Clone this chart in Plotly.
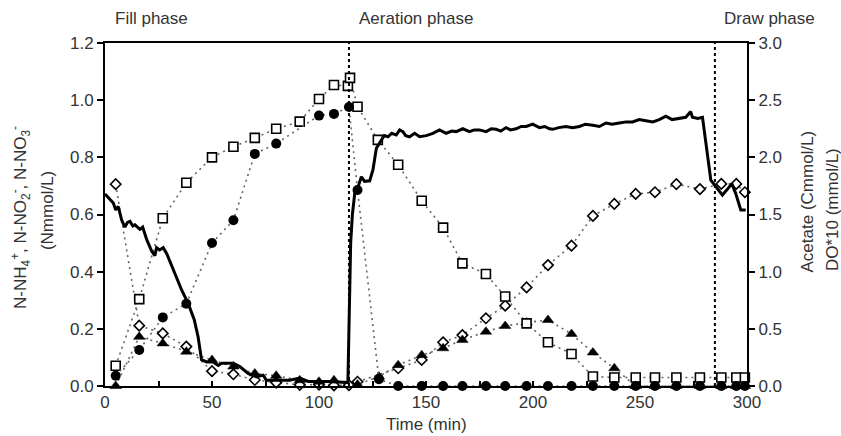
import plotly.graph_objects as go

# ---------------- data ----------------
# N-NH4+ (open squares), left axis, Nmmol/L
nh4_t = [5, 16, 27, 38, 50, 60, 70, 80, 91, 100, 107, 113.5, 114.5, 118, 127.5, 137, 148, 158, 167, 178,
         187, 197, 207, 218, 228, 238, 248, 257, 267, 278, 288, 295, 299]
nh4_v = [0.071, 0.304, 0.587, 0.711, 0.800, 0.837, 0.868, 0.900, 0.925, 1.004, 1.053, 1.050, 1.078, 0.977,
         0.861, 0.774, 0.648, 0.554, 0.429, 0.392, 0.313, 0.219, 0.153, 0.112, 0.033, 0.030, 0.030, 0.030,
         0.030, 0.030, 0.030, 0.030, 0.030]

# N-NO2- (filled triangles), left axis
no2_t = [5, 16, 27, 38, 50, 60, 70, 80, 91, 100, 107, 118, 128, 137, 148, 158, 167, 178, 187, 197, 207,
         218, 228, 238, 248, 257, 267, 278, 288, 295, 299]
no2_v = [0.000, 0.172, 0.149, 0.120, 0.091, 0.068, 0.044, 0.036, 0.020, 0.015, 0.020, 0.005, 0.033, 0.073,
         0.108, 0.132, 0.161, 0.190, 0.210, 0.222, 0.231, 0.182, 0.117, 0.062, 0.000, 0.000, 0.000, 0.000,
         0.000, 0.000, 0.000]

# N-NO3- (open diamonds), left axis
no3_t = [5, 16, 27, 38, 50, 60, 70, 80, 91, 100, 107, 114, 118, 137, 148, 158, 167, 178, 187, 197, 207,
         218, 228, 238, 248, 257, 267, 278, 288, 295, 299]
no3_v = [0.706, 0.211, 0.184, 0.138, 0.052, 0.041, 0.021, 0.012, 0.004, 0.005, 0.002, 0.003, 0.015, 0.062,
         0.091, 0.153, 0.178, 0.237, 0.281, 0.345, 0.423, 0.491, 0.595, 0.637, 0.672, 0.678, 0.706, 0.689,
         0.707, 0.707, 0.678]

# Acetate (filled circles), right axis, Cmmol/L
ac_t = [5, 16, 27, 38, 50, 60, 70, 80, 100, 107, 114, 118, 128, 137, 148, 158, 167, 178, 187, 197, 207,
        218, 228, 238, 248, 257, 267, 278, 288, 295, 299]
ac_v = [0.09, 0.315, 0.60, 0.72, 1.25, 1.45, 2.03, 2.12, 2.365, 2.38, 2.44, 1.715, 0.06, 0.0, 0.0, 0.0,
        0.0, 0.0, 0.0, 0.0, 0.0, 0.0, 0.0, 0.0, 0.0, 0.0, 0.0, 0.0, 0.0, 0.0, 0.0]

# DO*10 (solid line), right axis, mmol/L
do_t = [0, 2, 3.9, 5, 6.2, 7.8, 9.3, 10.5, 11.7, 13, 14, 16.3, 17.6, 19.5, 21.8, 23.3, 24.1, 25.5, 27.2,
        28.8, 31.9, 35.8, 38.9, 41.7, 43.5, 45.1, 47.5, 50.5, 52.9, 54.5, 59.9, 63, 66.9, 70.8, 73.9, 75.4,
        81.7, 86.3, 91, 95, 105, 113.5, 114.0, 114.8, 115.6, 116.8, 117.8, 119.8, 121.3, 123.7, 125.2,
        126.8, 129.1, 130.5, 132.2, 134, 136.1, 137.7, 139.2, 140.5, 142.3, 144.7, 147, 150.1, 153.2,
        156.3, 159.4, 162, 164.1, 167.2, 170.3, 172.5, 175, 178.1, 180.5, 182.8, 185, 187.4, 189.5, 192.1,
        194.5, 196.8, 199.9, 203, 205.5, 207.7, 209.2, 212, 215.4, 218.5, 221.7, 224.5, 227.9, 231, 234.1,
        237, 240.3, 243.5, 246.5, 249.6, 252.8, 256, 259, 262.1, 265, 268.3, 271.4, 273.7, 274.5, 277,
        279.2, 283.1, 285.4, 288.5, 290.8, 292.9, 294.7, 297.1, 299.4]
do_v = [1.68, 1.64, 1.60, 1.54, 1.57, 1.45, 1.39, 1.43, 1.44, 1.40, 1.41, 1.37, 1.39, 1.28, 1.18, 1.14,
        1.21, 1.19, 1.21, 1.16, 1.02, 0.84, 0.72, 0.58, 0.43, 0.23, 0.21, 0.21, 0.18, 0.20, 0.20, 0.17,
        0.11, 0.08, 0.095, 0.05, 0.05, 0.05, 0.07, 0.04, 0.04, 0.03, 0.50, 1.25, 1.50, 1.70, 1.715, 1.83,
        1.79, 1.795, 1.89, 2.08, 2.15, 2.19, 2.18, 2.21, 2.195, 2.24, 2.225, 2.19, 2.18, 2.21, 2.18, 2.19,
        2.21, 2.24, 2.21, 2.23, 2.225, 2.25, 2.225, 2.24, 2.24, 2.225, 2.25, 2.245, 2.23, 2.26, 2.24, 2.25,
        2.27, 2.27, 2.29, 2.26, 2.27, 2.25, 2.245, 2.26, 2.27, 2.26, 2.27, 2.29, 2.28, 2.27, 2.30, 2.29,
        2.30, 2.31, 2.31, 2.33, 2.32, 2.31, 2.33, 2.36, 2.33, 2.34, 2.35, 2.40, 2.35, 2.34, 2.35, 1.80,
        1.74, 1.67, 1.72, 1.77, 1.685, 1.54, 1.54]

phase_bounds = [114, 285]
phase_labels = ["Fill phase", "Aeration phase", "Draw phase"]

x_ticks = [0, 50, 100, 150, 200, 250, 300]
y_ticks = [0.0, 0.2, 0.4, 0.6, 0.8, 1.0, 1.2]
y2_ticks = [0.0, 0.5, 1.0, 1.5, 2.0, 2.5, 3.0]

# ---------------- figure ----------------
FONT = "Liberation Sans, Arial, sans-serif"
dotted = dict(color="#666666", width=1.6, dash="2px,4px")

fig = go.Figure()

fig.add_trace(go.Scatter(x=do_t, y=do_v, yaxis="y2", mode="lines",
                         line=dict(color="black", width=3), name="DO*10", cliponaxis=False))

fig.add_trace(go.Scatter(x=no3_t, y=no3_v, mode="lines+markers", line=dotted, name="N-NO3",
                         marker=dict(symbol="diamond", size=8, color="white",
                                     line=dict(color="black", width=1.6)), cliponaxis=False))
fig.add_trace(go.Scatter(x=no2_t, y=no2_v, mode="lines+markers", line=dotted, name="N-NO2",
                         marker=dict(symbol="triangle-up", size=10, color="black",
                                     line=dict(color="black", width=0.5)), cliponaxis=False))
fig.add_trace(go.Scatter(x=ac_t, y=ac_v, yaxis="y2", mode="lines+markers", line=dotted, name="Acetate",
                         marker=dict(symbol="circle", size=10, color="black"), cliponaxis=False))
fig.add_trace(go.Scatter(x=nh4_t, y=nh4_v, mode="lines+markers", line=dotted, name="N-NH4",
                         marker=dict(symbol="square", size=9, color="white",
                                     line=dict(color="black", width=1.6)), cliponaxis=False))

for xb in phase_bounds:
    fig.add_shape(type="line", xref="x", yref="paper", x0=xb, x1=xb, y0=0, y1=1,
                  line=dict(color="black", width=2, dash="3px,3px"))

tickfont = dict(family=FONT, size=17, color="#333333")

fig.update_layout(
    width=841, height=436,
    margin=dict(l=105, r=94, t=43, b=50),
    paper_bgcolor="white", plot_bgcolor="white",
    showlegend=False,
    font=dict(family=FONT, size=17, color="#333333"),
    xaxis=dict(range=[0, 300], tickvals=x_ticks, ticks="inside", ticklen=5, tickwidth=1.5,
               tickcolor="black", showline=True, linecolor="black", linewidth=2, mirror=True,
               showgrid=False, zeroline=False, tickfont=tickfont,
               minor=dict(dtick=25, ticks="inside", ticklen=5, tickwidth=1.5, tickcolor="black",
                          showgrid=False)),
    yaxis=dict(range=[0, 1.2], tickvals=y_ticks, tickformat=".1f", ticks="outside", ticklen=6,
               tickwidth=1.5, tickcolor="black", showline=True, linecolor="black", linewidth=2,
               showgrid=False, zeroline=False, tickfont=tickfont),
    yaxis2=dict(range=[0, 3.0], tickvals=y2_ticks, tickformat=".1f", ticks="outside", ticklen=6,
                tickwidth=1.5, tickcolor="black", showline=True, linecolor="black", linewidth=2,
                showgrid=False, zeroline=False, tickfont=tickfont, overlaying="y", side="right"),
)

ann_font = dict(family=FONT, size=17, color="#333333")
phase_x = [0.0717, 0.485, 1.0343]
for lbl, px in zip(phase_labels, phase_x):
    fig.add_annotation(text=lbl, xref="paper", yref="paper", x=px, y=1.070, showarrow=False,
                       xanchor="center", yanchor="middle", font=ann_font)

fig.add_annotation(text="N-NH<sub>4</sub><sup>+</sup>, N-NO<sub>2</sub><sup>-</sup>, N-NO<sub>3</sub><sup>-</sup>",
                   xref="paper", yref="paper", x=-0.1308, y=0.49, textangle=-90, showarrow=False,
                   xanchor="center", yanchor="middle", font=ann_font)
fig.add_annotation(text="(Nmmol/L)", xref="paper", yref="paper", x=-0.0903, y=0.51, textangle=-90,
                   showarrow=False, xanchor="center", yanchor="middle", font=ann_font)
fig.add_annotation(text="Acetate (Cmmol/L)", xref="paper", yref="paper", x=1.0935, y=0.538, textangle=-90,
                   showarrow=False, xanchor="center", yanchor="middle", font=ann_font)
fig.add_annotation(text="DO*10 (mmol/L)", xref="paper", yref="paper", x=1.1324, y=0.513, textangle=-90,
                   showarrow=False, xanchor="center", yanchor="middle", font=ann_font)
fig.add_annotation(text="Time (min)", xref="paper", yref="paper", x=0.5, y=-0.1137, showarrow=False,
                   xanchor="center", yanchor="middle", font=ann_font)

fig.write_html("out.html")
